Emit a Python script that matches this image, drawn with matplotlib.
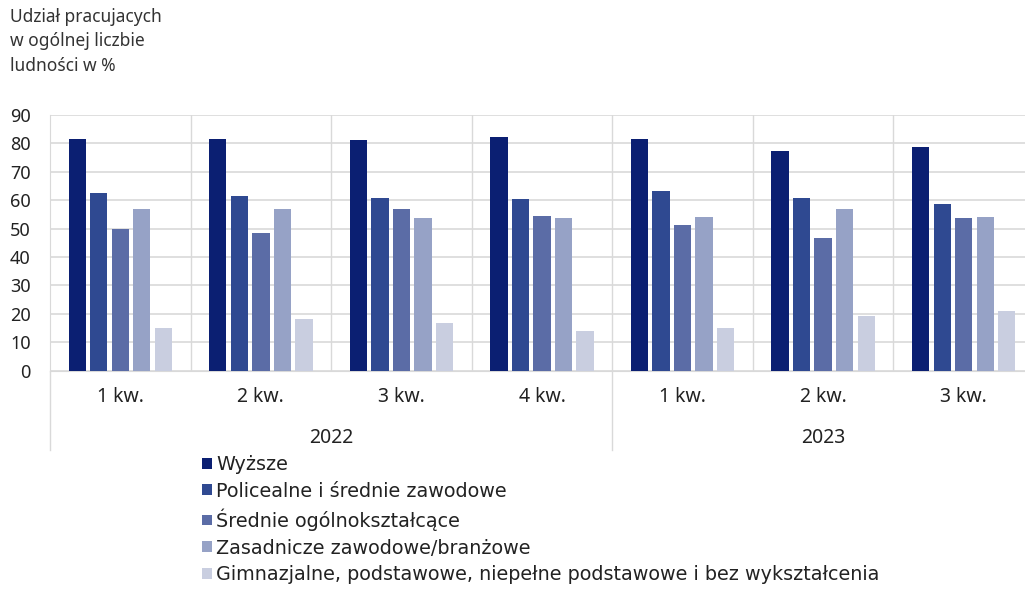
import numpy as np
import matplotlib
matplotlib.use('Agg')
import matplotlib.pyplot as plt
import matplotlib.transforms as mtransforms

plt.rcParams['font.family'] = ['Noto Sans', 'DejaVu Sans']

quarters = ['1 kw.', '2 kw.', '3 kw.', '4 kw.', '1 kw.', '2 kw.', '3 kw.']
years = ['2022', '2023']
year_span = [4, 3]

series = ['Wyższe',
          'Policealne i średnie zawodowe',
          'Średnie ogólnokształcące',
          'Zasadnicze zawodowe/branżowe',
          'Gimnazjalne, podstawowe, niepełne podstawowe i bez wykształcenia']
wyzsze = [81.6, 81.6, 81.2, 82.3, 81.6, 77.2, 78.9]
policealne = [62.6, 61.4, 60.8, 60.3, 63.2, 60.8, 58.6]
srednie = [49.7, 48.5, 57.0, 54.6, 51.3, 46.8, 53.6]
zasadnicze = [56.9, 56.9, 53.6, 53.6, 54.1, 56.9, 54.1]
gimnazjalne = [15.1, 18.1, 16.9, 14.1, 15.1, 19.2, 20.9]
colors = ['#0b1f72', '#2f4991', '#5b6ca6', '#96a2c6', '#c9cee0']

values = [wyzsze, policealne, srednie, zasadnicze, gimnazjalne]

fig = plt.figure(figsize=(10.25, 5.89), dpi=100)
ax = fig.add_axes([50 / 1025, 218.3 / 589, 984 / 1025, 255.7 / 589])

x = np.arange(len(quarters))
step = 0.153
width = 0.123
handles = []
for i, (name, vals, c) in enumerate(zip(series, values, colors)):
    b = ax.bar(x + (i - 2) * step, vals, width, color=c, label=name, zorder=3)
    handles.append(b)

ax.set_xlim(-0.5, len(quarters) - 0.5)
ax.set_ylim(0, 90)
ax.set_yticks(range(0, 91, 10))
ax.tick_params(axis='y', length=0, pad=14, labelsize=13, labelcolor='#222222')
ax.set_xticks([])
ax.grid(axis='y', color='#d9d9d9', linewidth=1.2, zorder=0)
for s in ['top', 'right']:
    ax.spines[s].set_visible(False)
ax.spines['left'].set_color('#d9d9d9')
ax.spines['bottom'].set_color('#d9d9d9')

# separators between quarters
for xs in np.arange(0.5, len(quarters) - 0.5, 1):
    ax.axvline(xs, color='#d9d9d9', linewidth=1, zorder=0)

trans = mtransforms.blended_transform_factory(ax.transData, ax.transAxes)
# longer lines at year boundaries
start = -0.5
bounds = [start]
for n in year_span:
    start += n
    bounds.append(start)
for b in bounds[:-1]:
    ax.plot([b, b], [0, -0.31], transform=trans, color='#d9d9d9',
            linewidth=1, clip_on=False)

for xi, q in zip(x, quarters):
    ax.text(xi, -0.103, q, transform=trans, ha='center', va='center',
            fontsize=14, color='#222222')
for yr, b0, b1 in zip(years, bounds[:-1], bounds[1:]):
    ax.text((b0 + b1) / 2, -0.263, yr, transform=trans, ha='center',
            va='center', fontsize=14, color='#222222')

fig.text(10 / 1025, 1 - 8 / 589,
         'Udział pracujacych\nw ogólnej liczbie\nludności w %',
         ha='left', va='top', fontsize=12.5, color='#333333', linespacing=1.45)

fig.legend(handles=handles, loc='upper left', bbox_to_anchor=(202 / 1025, 1 - 455 / 589),
           frameon=False, handlelength=0.5, handleheight=0.5,
           handletextpad=0.25, labelspacing=0.4, borderaxespad=0, borderpad=0,
           labelcolor='#222222', prop={'family': 'DejaVu Sans', 'size': 13.8})

fig.savefig('out.png', dpi=100)
